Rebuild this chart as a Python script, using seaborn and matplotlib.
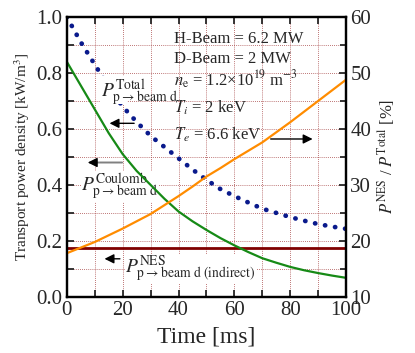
import numpy as np
import pandas as pd
import seaborn as sns
import matplotlib
matplotlib.use("Agg")
import matplotlib.pyplot as plt
from matplotlib.ticker import MultipleLocator
from matplotlib.patches import Rectangle

# time axis [ms]
time_ms = [0, 5, 10, 15, 20, 25, 30, 35, 40, 45, 50,
           55, 60, 65, 70, 75, 80, 85, 90, 95, 100]
# transport power density [kW/m^3]
p_total = [1.0, 0.91, 0.83, 0.75, 0.68, 0.625, 0.575, 0.535, 0.495, 0.455, 0.418,
           0.385, 0.36, 0.337, 0.315, 0.30, 0.285, 0.272, 0.26, 0.251, 0.243]
p_coulomb = [0.84, 0.755, 0.67, 0.585, 0.51, 0.45, 0.40, 0.35, 0.305, 0.27, 0.239,
             0.21, 0.184, 0.16, 0.138, 0.122, 0.107, 0.095, 0.085, 0.076, 0.068]
p_nes = [0.176] * len(time_ms)
# ratio P_NES / P_Total [%]
ratio = [17.8, 18.8, 19.8, 21.0, 22.2, 23.5, 24.8, 26.4, 28.0, 29.7, 31.5,
         33.0, 34.6, 36.1, 37.6, 39.4, 41.2, 43.1, 45.0, 46.9, 48.8]

df = pd.DataFrame({"t": time_ms, "total": p_total, "coul": p_coulomb,
                   "nes": p_nes, "ratio": ratio})

sns.set_style("ticks")
plt.rcParams['font.family'] = ['Liberation Serif', 'DejaVu Serif']
plt.rcParams['mathtext.fontset'] = 'stix'

fig = plt.figure(figsize=(4.15, 3.53), dpi=100)
ax = fig.add_axes([0.161, 0.159, 0.673, 0.793])
ax2 = ax.twinx()

gridc = '#a84848'
for v in range(10, 100, 10):
    ax.axvline(v, color=gridc, lw=0.6, ls=(0, (1, 1.5)), zorder=0)
for v in np.arange(0.1, 1.0, 0.1):
    ax.axhline(v, color=gridc, lw=0.6, ls=(0, (1, 1.5)), zorder=0)

sns.lineplot(data=df, x="t", y="nes", ax=ax, color='#800000', lw=2)
sns.lineplot(data=df, x="t", y="coul", ax=ax, color='#168a16', lw=1.6)
sns.lineplot(data=df, x="t", y="total", ax=ax, color='#0a1a8c', lw=3.4,
             linestyle=(0, (0.05, 2.1)), dash_capstyle='round')
sns.lineplot(data=df, x="t", y="ratio", ax=ax2, color='#ff8c00', lw=1.6)

ax.set_xlim(0, 100)
ax.set_ylim(0, 1.0)
ax2.set_ylim(10, 60)
ax.xaxis.set_major_locator(MultipleLocator(20))
ax.xaxis.set_minor_locator(MultipleLocator(10))
ax.yaxis.set_major_locator(MultipleLocator(0.2))
ax.yaxis.set_minor_locator(MultipleLocator(0.1))
ax2.yaxis.set_major_locator(MultipleLocator(10))
ax2.yaxis.set_minor_locator(MultipleLocator(5))
ax.yaxis.set_major_formatter(matplotlib.ticker.FormatStrFormatter('%.1f'))

for a in (ax, ax2):
    for s in a.spines.values():
        s.set_linewidth(1.6)
        s.set_color('black')
ax.tick_params(which='both', direction='in', top=True, width=1.3, labelsize=15, pad=3)
ax.tick_params(which='major', length=5)
ax.tick_params(which='minor', length=5)
ax2.tick_params(which='both', direction='in', width=1.3, labelsize=15, pad=3)
ax2.tick_params(which='major', length=5)
ax2.tick_params(which='minor', length=4)

ax.set_xlabel("Time [ms]", fontsize=17, labelpad=5)
ax.set_ylabel(r"Transport power density [kW/m$^3$]", fontsize=11, labelpad=3)
ax2.set_ylabel(r"$P^{\rm NES}$ / $P^{\rm Total}$ [%]", fontsize=12, labelpad=3)

# parameter text
tx = 38.5
fs = 12
ax.text(tx, 0.92, "H-Beam = 6.2 MW", fontsize=fs, va='center', zorder=7)
ax.text(tx, 0.85, "D-Beam = 2 MW", fontsize=fs, va='center', zorder=7)
ax.text(tx, 0.775, r"$n_{\rm e}$ = 1.2×10$^{19}$ m$^{-3}$", fontsize=fs, va='center', zorder=7)
ax.text(tx, 0.675, r"$T_i$ = 2 keV", fontsize=fs, va='center', zorder=7)
ax.text(tx, 0.58, r"$T_e$ = 6.6 keV", fontsize=fs, va='center', zorder=7)

# curve labels; white patch hides the dotted line behind the total label
ax.add_patch(Rectangle((11.8, 0.69), 9.7, 0.1, facecolor='white',
                       edgecolor='none', zorder=4))
box = dict(facecolor='white', edgecolor='none', pad=0)
ax.text(12.3, 0.73, r"$P^{\rm Total}_{\rm p\rightarrow beam\ d}$", fontsize=14,
        va='center', zorder=5)
ax.text(5.2, 0.395, r"$P^{\rm Coulomb}_{\rm p\rightarrow beam\ d}$", fontsize=14,
        va='center', bbox=box, zorder=1.5)
ax.text(21, 0.10, r"$P^{\rm NES}_{\rm p\rightarrow beam\ d\ (indirect)}$", fontsize=14,
        va='center', bbox=box, zorder=1.5)

arr = dict(arrowstyle='-|>', color='black', lw=1, mutation_scale=14)
ax.annotate('', xy=(14.3, 0.62), xytext=(25.1, 0.62), arrowprops=arr, zorder=6)
ax.annotate('', xy=(9, 0.48), xytext=(20.8, 0.48),
            arrowprops=dict(arrowstyle='-', color='#808080', lw=1.4), zorder=6)
ax.annotate('', xy=(6.5, 0.48), xytext=(10, 0.48), arrowprops=arr, zorder=6)
ax.annotate('', xy=(12.5, 0.136), xytext=(20, 0.136), arrowprops=arr, zorder=6)
ax.annotate('', xy=(89, 0.564), xytext=(72, 0.564), arrowprops=arr, zorder=6)

fig.savefig("out.png", dpi=100)
